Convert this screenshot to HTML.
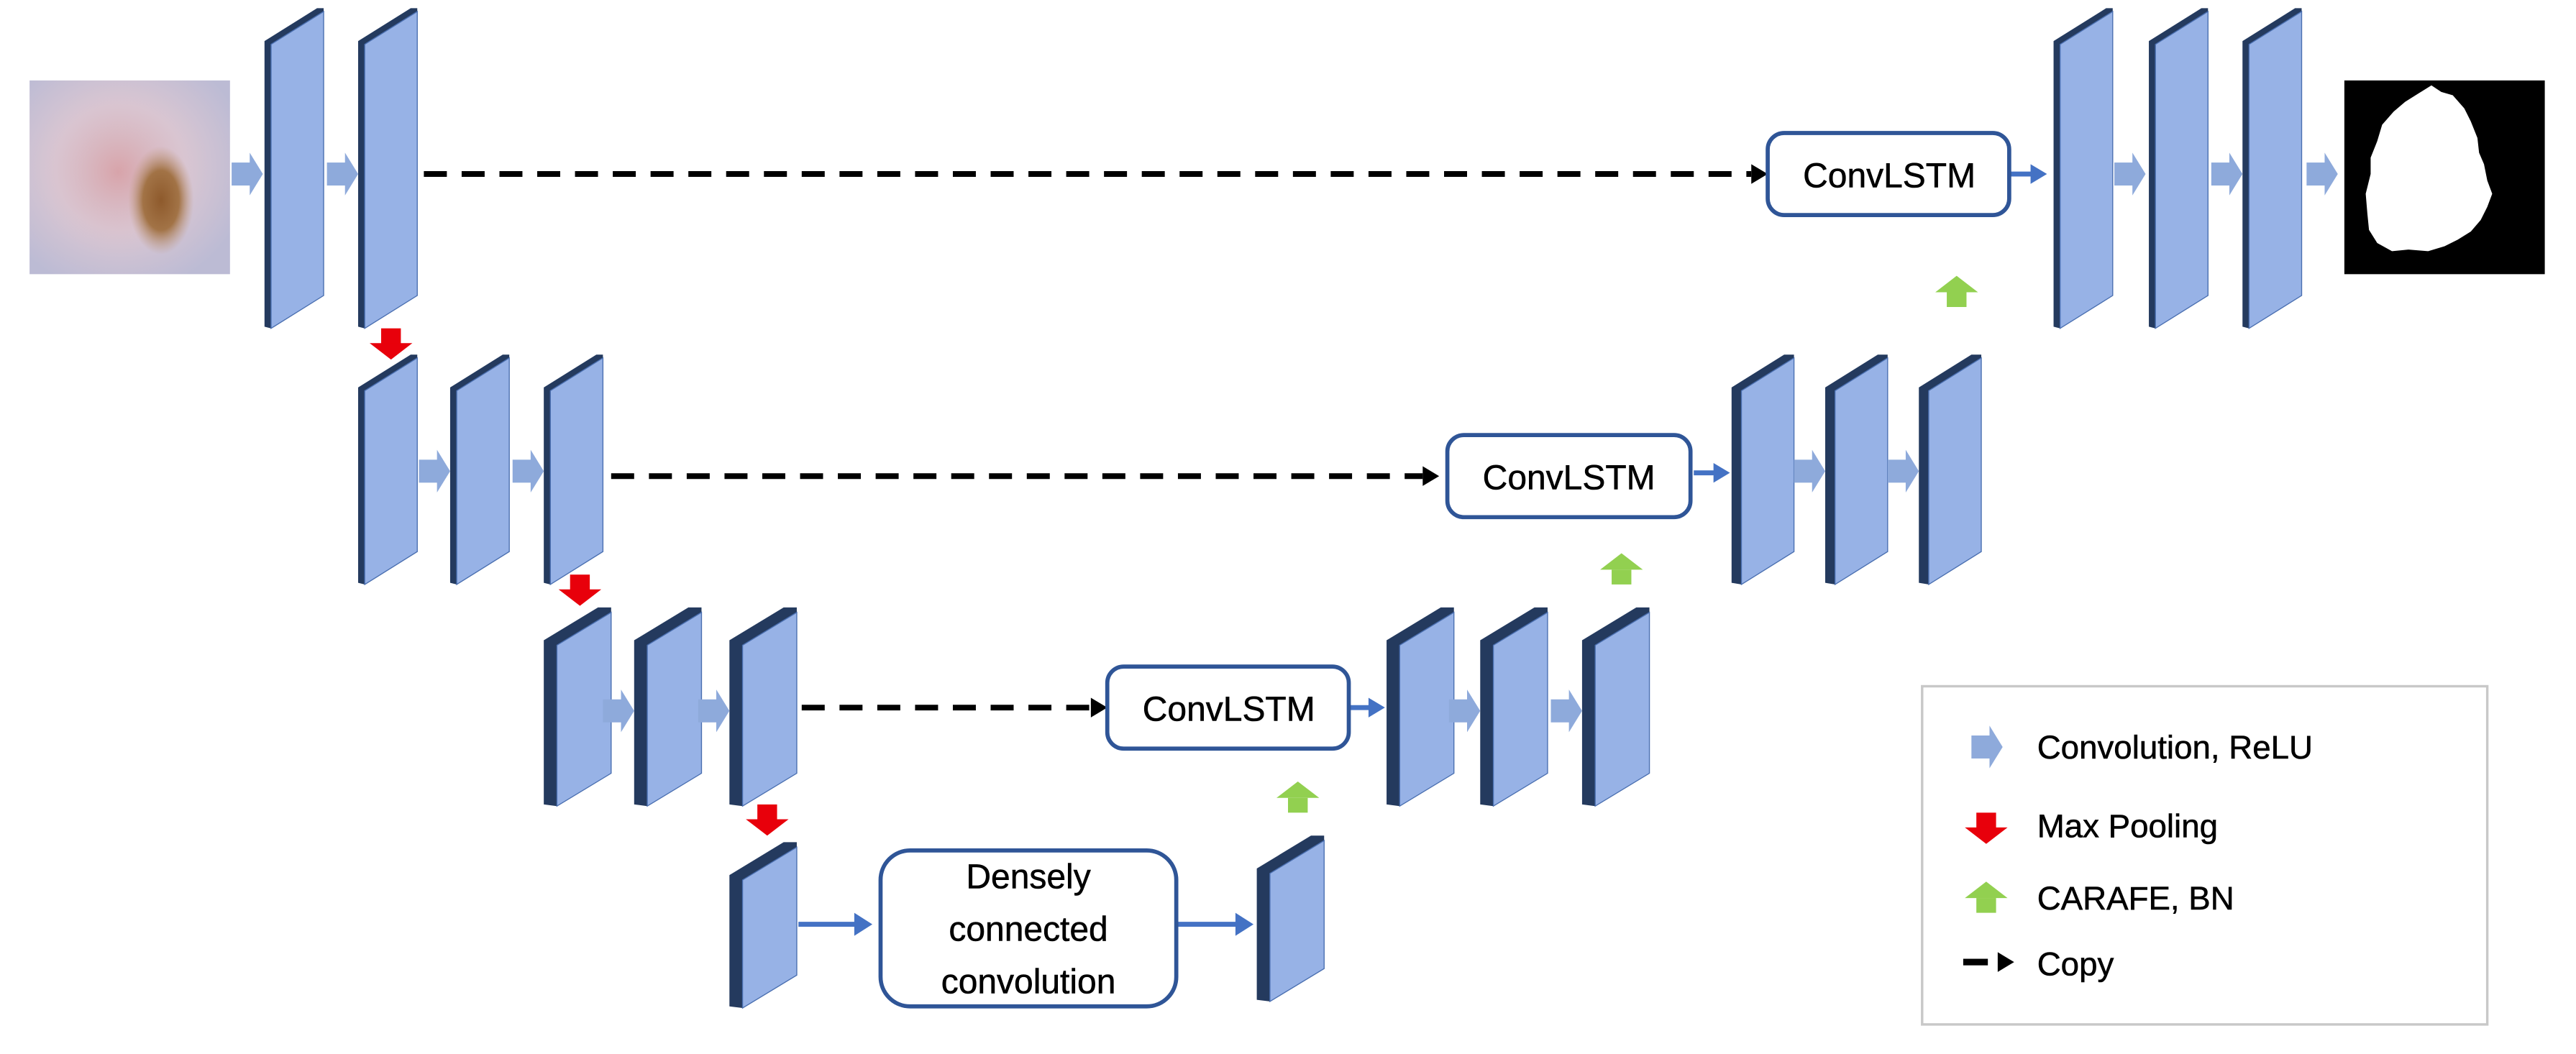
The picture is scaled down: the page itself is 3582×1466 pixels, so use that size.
<!DOCTYPE html>
<html><head><meta charset="utf-8"><style>
html,body{margin:0;padding:0;background:#fff;}
svg{display:block;}
text{font-family:"Liberation Sans",sans-serif;fill:#000;}
</style></head><body>
<svg width="3582" height="1466" viewBox="0 0 1568 642" preserveAspectRatio="none" xmlns="http://www.w3.org/2000/svg">
<defs>
<g id="L1"><polygon fill="#243a5e" points="0,25 32,5 36,5 36,7 4,27 4,200 0,199"/><polygon fill="#97b2e6" stroke="#4a6fb0" stroke-width="0.6" points="4,27 36,7 36,180 4,200"/></g>
<g id="L2a"><polygon fill="#243a5e" points="0,236 32,216 36,216 36,218 4,238 4,356 0,355"/><polygon fill="#97b2e6" stroke="#4a6fb0" stroke-width="0.6" points="4,238 36,218 36,336 4,356"/></g>
<g id="L2b"><polygon fill="#243a5e" points="0,236 32,216 38,216 38,218 6,238 6,356 0,355"/><polygon fill="#97b2e6" stroke="#4a6fb0" stroke-width="0.6" points="6,238 38,218 38,336 6,356"/></g>
<g id="L3"><polygon fill="#243a5e" points="0,390 33,370 41,370 41,373 8,393 8,491 0,490"/><polygon fill="#97b2e6" stroke="#4a6fb0" stroke-width="0.6" points="8,393 41,373 41,471 8,491"/></g>
<g id="L4"><polygon fill="#243a5e" points="0,533 33,513 41,513 41,516 8,536 8,614 0,613"/><polygon fill="#97b2e6" stroke="#4a6fb0" stroke-width="0.6" points="8,536 41,516 41,594 8,614"/></g>
<g id="CA"><rect x="-19" y="-7" width="12" height="14" fill="#8eaadb"/><polygon points="-8,-13 0,0 -8,13" fill="#8eaadb"/></g>
<g id="RA"><rect x="-6" y="0" width="12" height="10" fill="#e8000b"/><polygon points="-13,9 13,9 0,19" fill="#e8000b"/></g>
<g id="GA"><polygon points="0,0 -13,10 13,10" fill="#92d050"/><rect x="-6" y="10" width="12" height="9" fill="#92d050"/></g>
<radialGradient id="skin" cx="0.45" cy="0.45" r="0.65"><stop offset="0" stop-color="#d8b9c0"/><stop offset="0.5" stop-color="#d9c6d2"/><stop offset="1" stop-color="#bcbbd4"/></radialGradient>
<radialGradient id="mole" cx="0.5" cy="0.5" r="0.5"><stop offset="0" stop-color="#8e5a2c"/><stop offset="0.55" stop-color="#a27346"/><stop offset="1" stop-color="#c09a80" stop-opacity="0"/></radialGradient>
<radialGradient id="red" cx="0.5" cy="0.5" r="0.5"><stop offset="0" stop-color="#d79aa0" stop-opacity="0.7"/><stop offset="1" stop-color="#d9c6d2" stop-opacity="0"/></radialGradient>
</defs>

<rect x="18" y="49" width="122" height="118" fill="url(#skin)"/>
<ellipse cx="72" cy="105" rx="50" ry="52" fill="url(#red)"/>
<ellipse cx="98" cy="122" rx="20" ry="33" fill="url(#mole)"/>

<rect x="1427" y="49" width="122" height="118" fill="#000"/>
<path d="M1472,57 L1480,52 L1486,56 L1493,58 L1500,66 L1504,74 L1508,84 L1509,93 L1512,100 L1514,110 L1517,118 L1514,126 L1510,134 L1504,141 L1496,146 L1488,150 L1478,153 L1466,152 L1456,153 L1447,148 L1442,140 L1441,130 L1440,118 L1443,106 L1443,96 L1447,86 L1450,76 L1457,68 L1464,62 Z" fill="#fff"/>

<use href="#L1" x="161"/><use href="#L1" x="218"/>
<use href="#L1" x="1250"/><use href="#L1" x="1308"/><use href="#L1" x="1365"/>
<use href="#L2a" x="218"/><use href="#L2a" x="274"/><use href="#L2a" x="331"/>
<use href="#L2b" x="1054"/><use href="#L2b" x="1111"/><use href="#L2b" x="1168"/>
<use href="#L3" x="331"/><use href="#L3" x="386"/><use href="#L3" x="444"/>
<use href="#L3" x="844"/><use href="#L3" x="901"/><use href="#L3" x="963"/>
<use href="#L4" x="444"/><use href="#L4" x="765" y="-4"/>

<use href="#CA" x="160" y="106"/><use href="#CA" x="218" y="106"/>
<use href="#CA" x="1306" y="106"/><use href="#CA" x="1365" y="106"/><use href="#CA" x="1423" y="106"/>
<use href="#CA" x="274" y="287"/><use href="#CA" x="331" y="287"/>
<use href="#CA" x="1111" y="287"/><use href="#CA" x="1168" y="287"/>
<use href="#CA" x="386" y="433"/><use href="#CA" x="444" y="433"/>
<use href="#CA" x="901" y="433"/><use href="#CA" x="963" y="433"/>

<use href="#RA" x="238" y="200"/><use href="#RA" x="353" y="350"/><use href="#RA" x="467" y="490"/>
<use href="#GA" x="1191" y="168"/><use href="#GA" x="987" y="337"/><use href="#GA" x="790" y="476"/>

<g stroke="#000" stroke-width="3.5" stroke-dasharray="14 9">
<line x1="258" y1="106" x2="1066" y2="106"/>
<line x1="372" y1="290" x2="866" y2="290"/>
<line x1="488" y1="431" x2="664" y2="431"/>
</g>
<polygon points="1066,100 1076,106 1066,112" fill="#000"/>
<polygon points="866,284 876,290 866,296" fill="#000"/>
<polygon points="664,425 674,431 664,437" fill="#000"/>

<g stroke="#4472c4" stroke-width="3">
<line x1="1224" y1="106" x2="1238" y2="106"/>
<line x1="1031" y1="288" x2="1045" y2="288"/>
<line x1="821" y1="431" x2="835" y2="431"/>
<line x1="486" y1="563" x2="522" y2="563"/>
<line x1="716" y1="563" x2="754" y2="563"/>
</g>
<g fill="#4472c4">
<polygon points="1236,100 1246,106 1236,112"/>
<polygon points="1043,282 1053,288 1043,294"/>
<polygon points="833,425 843,431 833,437"/>
<polygon points="520,556 531,563 520,570"/>
<polygon points="752,556 763,563 752,570"/>
</g>

<g fill="#fff" stroke="#2f5597" stroke-width="2.5">
<rect x="1076" y="81" width="147" height="50" rx="10"/>
<rect x="881" y="265" width="148" height="50" rx="10"/>
<rect x="674" y="406" width="147" height="50" rx="10"/>
<rect x="536" y="518" width="180" height="95" rx="18"/>
</g>
<g font-size="21" text-anchor="middle" stroke="#000" stroke-width="0.25">
<text x="1150" y="114">ConvLSTM</text>
<text x="955" y="298">ConvLSTM</text>
<text x="748" y="439">ConvLSTM</text>
<text x="626" y="541">Densely</text>
<text x="626" y="573">connected</text>
<text x="626" y="605">convolution</text>
</g>

<rect x="1170" y="418" width="344" height="206" fill="none" stroke="#c8c8c8" stroke-width="1.5"/>
<use href="#CA" x="1219" y="455"/>
<use href="#RA" x="1209" y="495"/>
<use href="#GA" x="1209" y="537"/>
<rect x="1195" y="584" width="15" height="4" fill="#000"/>
<polygon points="1216,580 1226,586 1216,592" fill="#000"/>
<g font-size="20" stroke="#000" stroke-width="0.25">
<text x="1240" y="462">Convolution, ReLU</text>
<text x="1240" y="510">Max Pooling</text>
<text x="1240" y="554">CARAFE, BN</text>
<text x="1240" y="594">Copy</text>
</g>
</svg>
</body></html>
